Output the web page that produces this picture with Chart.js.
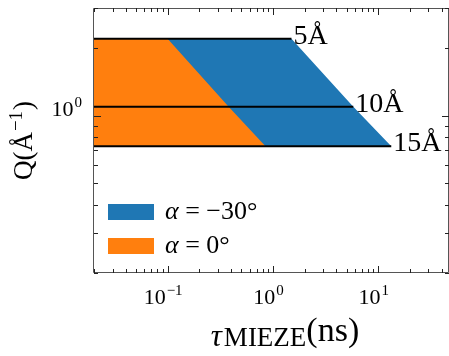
<!DOCTYPE html>
<html><head><meta charset="utf-8">
<script src="https://cdn.jsdelivr.net/npm/chart.js@4/dist/chart.umd.min.js"></script>
<style>html,body{margin:0;padding:0;background:#fff;overflow:hidden}</style>
</head><body>
<canvas id="c" width="449" height="356"></canvas>
<script>
// ---- data ----
const tauLimits = [0.02, 47];            // x axis range (ns)
const qLimits = [0.2, 3];                // y axis range (1/Å)
const wavelengthLabels = ['5Å', '10Å', '15Å'];
const qValues = [2.19, 1.095, 0.73];     // Q of each wavelength line
const tauAlphaMinus30 = [1.5, 5.8, 13.3];// max tau for alpha = -30°
const tauAlpha0 = [0.1, 0.38, 0.85];     // max tau for alpha = 0°
const seriesLabels = ['α = −30°', 'α = 0°'];
const seriesColors = ['#1f77b4', '#ff7f0e'];
const xMajorTicks = [0.1, 1, 10];
const xTickExponents = ['−1', '0', '1'];
const xMinorTicks = [0.02,0.03,0.04,0.05,0.06,0.07,0.08,0.09,0.2,0.3,0.4,0.5,0.6,0.7,0.8,0.9,2,3,4,5,6,7,8,9,20,30,40];
const yMajorTicks = [1];
const yTickExponents = ['0'];
const yMinorTicks = [0.2,0.3,0.4,0.5,0.6,0.7,0.8,0.9,2,3];

const SERIF = '"Liberation Serif", "DejaVu Serif", serif';

function boundary(taus) {
  const pts = [{x: tauLimits[0], y: qValues[0]}];
  taus.forEach((t, i) => pts.push({x: t, y: qValues[i]}));
  return pts;
}

const datasets = [];
// wavelength lines (drawn on top)
qValues.forEach((q, i) => {
  datasets.push({
    label: wavelengthLabels[i],
    data: [{x: tauLimits[0], y: q}, {x: tauAlphaMinus30[i], y: q}],
    borderColor: '#000', borderWidth: 2, pointRadius: 0, fill: false, order: 0
  });
});
datasets.push({
  label: seriesLabels[1], data: boundary(tauAlpha0),
  borderWidth: 0, borderColor: 'rgba(0,0,0,0)', backgroundColor: seriesColors[1],
  pointRadius: 0, fill: {value: qValues[2]}, order: 1
});
datasets.push({
  label: seriesLabels[0], data: boundary(tauAlphaMinus30),
  borderWidth: 0, borderColor: 'rgba(0,0,0,0)', backgroundColor: seriesColors[0],
  pointRadius: 0, fill: {value: qValues[2]}, order: 2
});

function drawPow(ctx, x, baseline, base, exp, bigPx, supPx, align) {
  ctx.font = bigPx + 'px ' + SERIF;
  const w1 = ctx.measureText(base).width;
  ctx.font = supPx + 'px ' + SERIF;
  const w2 = ctx.measureText(exp).width;
  const gap = 1;
  const total = w1 + gap + w2;
  let left = x;
  if (align === 'center') left = x - total / 2;
  else if (align === 'right') left = x - total;
  ctx.textAlign = 'left'; ctx.textBaseline = 'alphabetic';
  ctx.font = bigPx + 'px ' + SERIF;
  ctx.fillText(base, left, baseline);
  ctx.font = supPx + 'px ' + SERIF;
  ctx.fillText(exp, left + w1 + gap, baseline - 9);
}

const decor = {
  id: 'decor',
  afterDraw(chart) {
    const ctx = chart.ctx, a = chart.chartArea;
    const xs = chart.scales.x, ys = chart.scales.y;
    ctx.save();
    ctx.fillStyle = '#000';
    // wavelength labels
    ctx.font = '28px ' + SERIF;
    ctx.textAlign = 'left'; ctx.textBaseline = 'alphabetic';
    wavelengthLabels.forEach((lab, i) => {
      const px = xs.getPixelForValue(tauAlphaMinus30[i]);
      const py = ys.getPixelForValue(qValues[i]);
      ctx.fillText(lab, px + 2, py + 5);
    });
    // spines
    ctx.strokeStyle = '#555'; ctx.lineWidth = 1;
    ctx.beginPath();
    ctx.moveTo(a.left - 0.5, a.top + 0.5); ctx.lineTo(a.right - 0.5, a.top + 0.5);
    ctx.lineTo(a.right - 0.5, a.bottom - 0.5); ctx.lineTo(a.left - 0.5, a.bottom - 0.5);
    ctx.closePath(); ctx.stroke();
    // ticks (inward)
    ctx.strokeStyle = '#222';
    const xt = (v, len) => {
      const p = Math.round(xs.getPixelForValue(v)) + 0.5;
      ctx.moveTo(p, a.bottom); ctx.lineTo(p, a.bottom - len);
      ctx.moveTo(p, a.top); ctx.lineTo(p, a.top + len);
    };
    const yt = (v, len) => {
      const p = Math.round(ys.getPixelForValue(v)) + 0.5;
      ctx.moveTo(a.left, p); ctx.lineTo(a.left + len, p);
      ctx.moveTo(a.right, p); ctx.lineTo(a.right - len, p);
    };
    ctx.beginPath();
    xMajorTicks.forEach(v => xt(v, 7));
    xMinorTicks.forEach(v => xt(v, 4));
    yMajorTicks.forEach(v => yt(v, 7));
    yMinorTicks.forEach(v => yt(v, 4));
    ctx.stroke();
    // tick labels
    ctx.fillStyle = '#000';
    xMajorTicks.forEach((v, i) => {
      const p = xs.getPixelForValue(v);
      drawPow(ctx, p - 4.5, a.bottom + 31, '10', xTickExponents[i], 22, 15, 'center');
    });
    yMajorTicks.forEach((v, i) => {
      const p = ys.getPixelForValue(v);
      drawPow(ctx, a.left - 12, p + 0.5, '10', yTickExponents[i], 22, 15, 'right');
    });
    // legend
    const lx = 108, lw = 46, lh = 16;
    const rowsY = [212, 246];
    [0, 1].forEach(k => {
      ctx.fillStyle = seriesColors[k];
      ctx.fillRect(lx, rowsY[k] - lh / 2, lw, lh);
      ctx.fillStyle = '#000';
      ctx.textAlign = 'left'; ctx.textBaseline = 'alphabetic';
      const lab = seriesLabels[k];
      ctx.font = 'italic 26px ' + SERIF;
      ctx.fillText(lab.charAt(0), 165, rowsY[k] + 7);
      const wa = ctx.measureText(lab.charAt(0)).width;
      ctx.font = '26px ' + SERIF;
      ctx.fillText(lab.slice(1), 165 + wa, rowsY[k] + 7);
    });
    // x title
    ctx.textAlign = 'left'; ctx.textBaseline = 'alphabetic';
    const f1 = 'italic 31px ' + SERIF, f2 = '27px ' + SERIF, f3 = '34px ' + SERIF;
    ctx.font = f1; const w1 = ctx.measureText('τ').width;
    ctx.font = f2; const w2 = ctx.measureText('MIEZE').width;
    ctx.font = f3; const w3 = ctx.measureText('(ns)').width;
    let x0 = 285 - (w1 + w2 + w3 + 2) / 2;
    ctx.font = f1; ctx.fillText('τ', x0, 346);
    ctx.font = f2; ctx.fillText('MIEZE', x0 + w1 + 2, 346);
    ctx.font = f3; ctx.fillText('(ns)', x0 + w1 + 2 + w2, 341);
    // y title
    ctx.save();
    ctx.translate(32, 140.5);
    ctx.rotate(-Math.PI / 2);
    const g1 = '27px ' + SERIF, g2 = '19px ' + SERIF;
    ctx.font = g1; const a1 = ctx.measureText('Q(Å').width; const a3 = ctx.measureText(')').width;
    ctx.font = g2; const a2 = ctx.measureText('−1').width;
    let s = -(a1 + a2 + a3 + 2) / 2;
    ctx.font = g1; ctx.fillText('Q(Å', s, 0);
    ctx.font = g2; ctx.fillText('−1', s + a1 + 1, -10);
    ctx.font = g1; ctx.fillText(')', s + a1 + a2 + 2, 0);
    ctx.restore();
    ctx.restore();
  }
};

new Chart(document.getElementById('c'), {
  type: 'line',
  data: {datasets},
  options: {
    responsive: false, animation: false, devicePixelRatio: 1,
    layout: {padding: {left: 94, top: 8, right: 0, bottom: 83}},
    plugins: {legend: {display: false}, tooltip: {enabled: false}},
    scales: {
      x: {type: 'logarithmic', min: tauLimits[0], max: tauLimits[1], display: false},
      y: {type: 'logarithmic', min: qLimits[0], max: qLimits[1], display: false}
    }
  },
  plugins: [decor]
});
</script>
</body></html>
